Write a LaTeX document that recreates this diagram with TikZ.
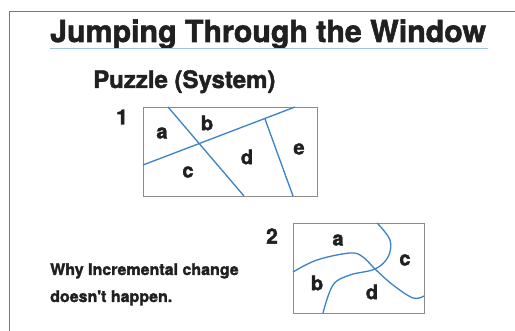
\documentclass[tikz,border=0pt]{standalone}
\usepackage{fontspec}
\setmainfont{TeX Gyre Heros}
\newfontfamily\heavy{TeX Gyre Heros Bold}[RawFeature={embolden=1.8}]
\definecolor{ink}{HTML}{202020}
\definecolor{cut}{HTML}{3C82C8}
\definecolor{rule}{HTML}{9EC3E6}
\definecolor{frame}{HTML}{7A7A7A}
\definecolor{boxline}{HTML}{8C8C8C}
\tikzset{
  txt/.style={inner sep=0pt, text=ink, font=\heavy},
  lab/.style={txt, font=\heavy\fontsize{20}{20}\selectfont},
  cutline/.style={cut, line width=1.3pt},
  pbox/.style={draw=boxline, line width=0.7pt}
}
\begin{document}
\begin{tikzpicture}[x=1pt,y=-1pt]
\useasboundingbox (0,0) rectangle (515,331);
\fill[white] (0,0) rectangle (515,331);
% frame
\draw[frame, line width=1pt] (9,331) -- (9,12) -- (515,12);
% title
\node[txt, anchor=base west, font=\heavy\fontsize{30.3}{30}\selectfont] (title) at (50,42) {Jumping Through the Window};
\draw[rule, line width=0.8pt] (50,48) -- (488,48);
\node[txt, anchor=base west, font=\heavy\fontsize{24}{24}\selectfont] (sub) at (93,88) {Puzzle (System)};
% box 1
\node[txt, font=\heavy\fontsize{21}{21}\selectfont] (n1) at (122,117) {1};
\draw[pbox] (143,107) rectangle (317,196);
\draw[cutline] (168,107) -- (244,196);
\draw[cutline] (143,165) -- (295,107);
\draw[cutline] (265,119) -- (293,196);
\node[lab] (a1) at (162,133) {a};
\node[lab] (b1) at (207,123) {b};
\node[lab] (c1) at (188,172) {c};
\node[lab] (d1) at (247,157) {d};
\node[lab] (e1) at (299,149) {e};
% box 2
\node[txt, font=\heavy\fontsize{21}{21}\selectfont] (n2) at (272,236) {2};
\draw[pbox] (293,223) rectangle (424,313);
\draw[cutline] plot[smooth, tension=0.6] coordinates {(293,272) (317,260) (350,253) (363,257) (375,269) (393,285) (413,298) (424,296)};
\draw[cutline] plot[smooth, tension=0.6] coordinates {(377,223) (390,240) (388,257) (375,269) (350,275) (333,285) (323,313)};
\node[lab] (a2) at (338,240) {a};
\node[lab] (c2) at (405,260) {c};
\node[lab] (b2) at (317,283) {b};
\node[lab] (d2) at (372,292) {d};
% bottom text
\node[txt, anchor=base west, font=\heavy\fontsize{16}{16}\selectfont] (why) at (50,275) {Why Incremental change};
\node[txt, anchor=base west, font=\heavy\fontsize{16}{16}\selectfont] (why2) at (50,302) {doesn't happen.};
\end{tikzpicture}
\end{document}
